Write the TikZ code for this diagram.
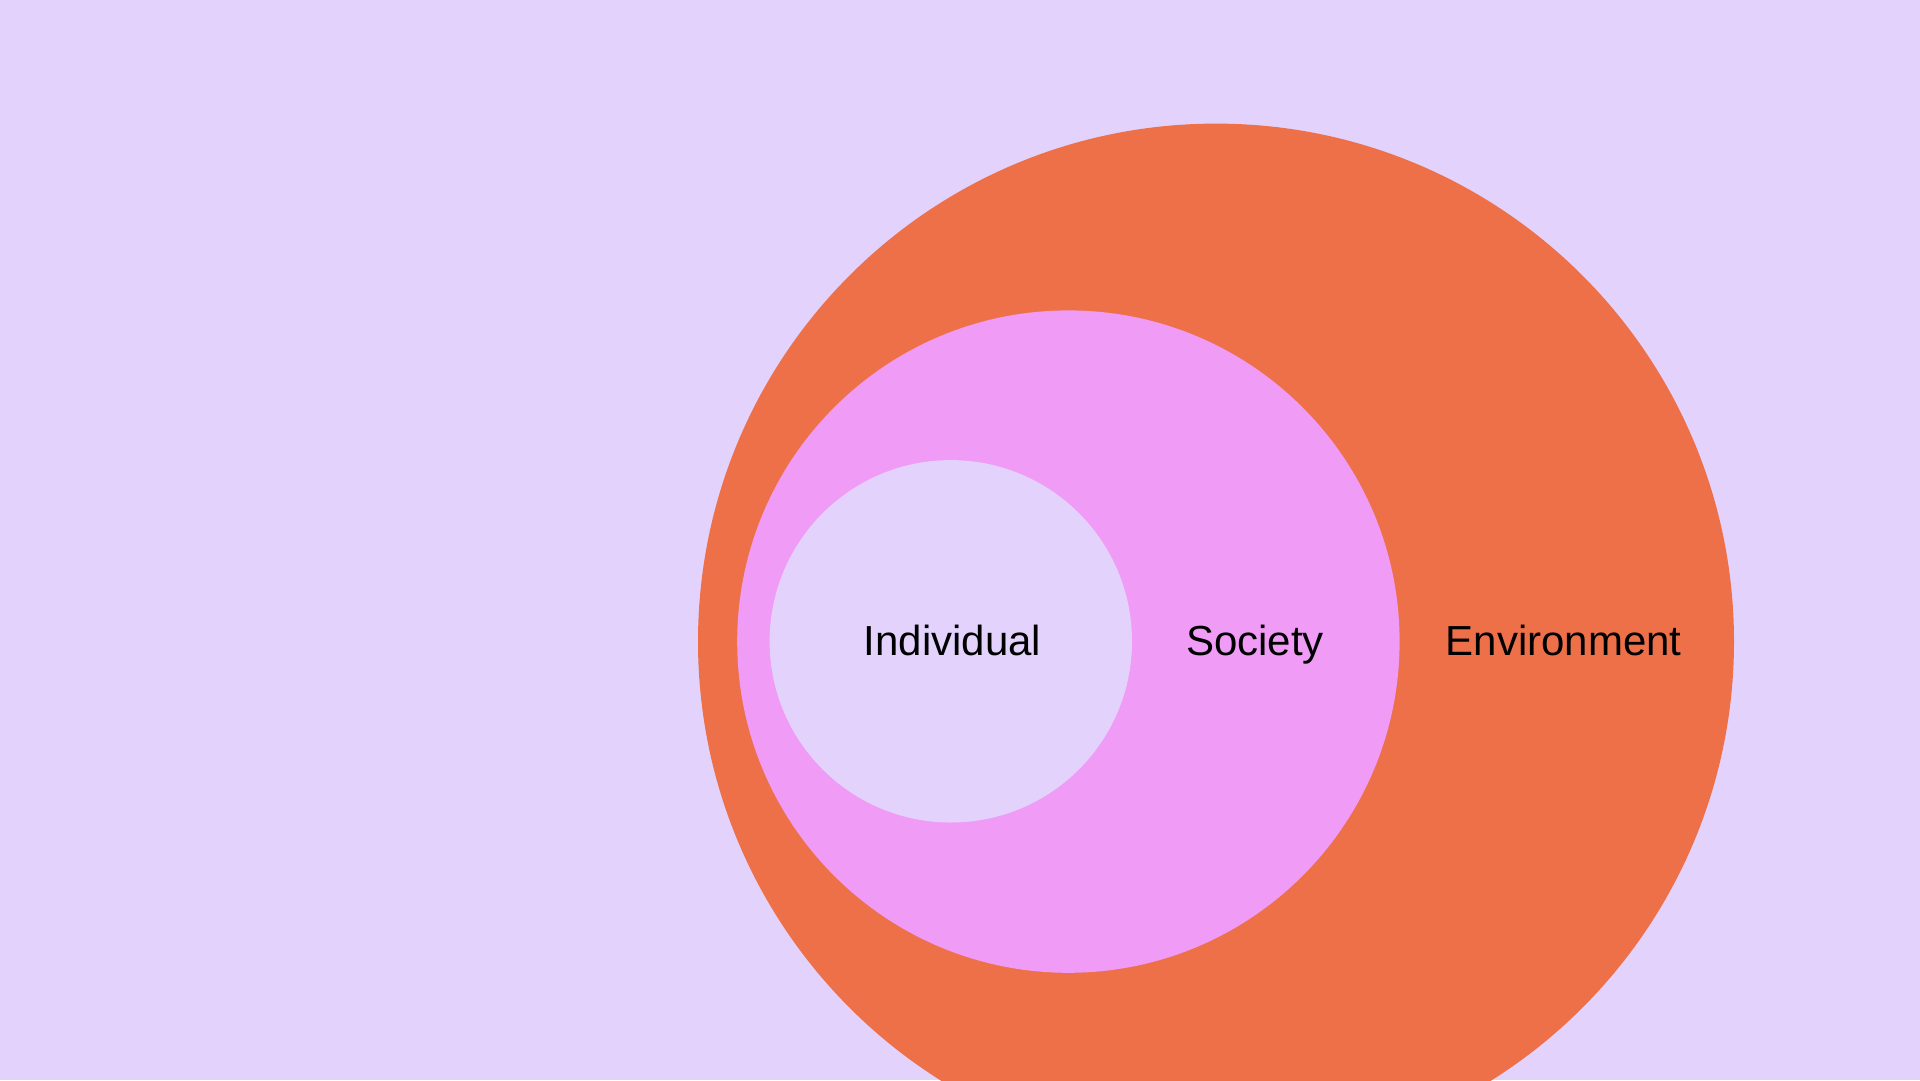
\documentclass[tikz,border=0pt]{standalone}
\usepackage{fontspec}
\setmainfont{Liberation Sans}
\usepackage{xcolor}
\definecolor{lavender}{HTML}{E3D3FC}
\definecolor{envorange}{HTML}{EE7049}
\definecolor{socpink}{HTML}{F09BF6}

\begin{document}
\begin{tikzpicture}[x=1pt,y=1pt,yscale=-1,xscale=1,
    lbl/.style={inner sep=0pt, anchor=base, font=\fontsize{42}{50}\selectfont, text=black}]
    %Shape: Background
    \fill [lavender] (0,0) rectangle (1920,1080) ;
    \useasboundingbox (0,0) rectangle (1920,1080) ;
    \clip (0,0) rectangle (1920,1080) ;
    
    %Shape: Circle [environment]
    \fill [envorange] (1216,641.6) circle (518) ;
    %Shape: Circle [society]
    \fill [socpink] (1068.4,641.6) circle (331.2) ;
    %Shape: Circle [individual]
    \fill [lavender] (950.8,641.3) circle (181.2) ;
    
    % Text Node
    \node (individual) [lbl] at (952.6,655.5) {Individual};
    % Text Node
    \node (society) [lbl] at (1255,655.5) {Society};
    % Text Node
    \node (environment) [lbl] at (1563.7,655.5) {Environment};
    
\end{tikzpicture}
\end{document}
